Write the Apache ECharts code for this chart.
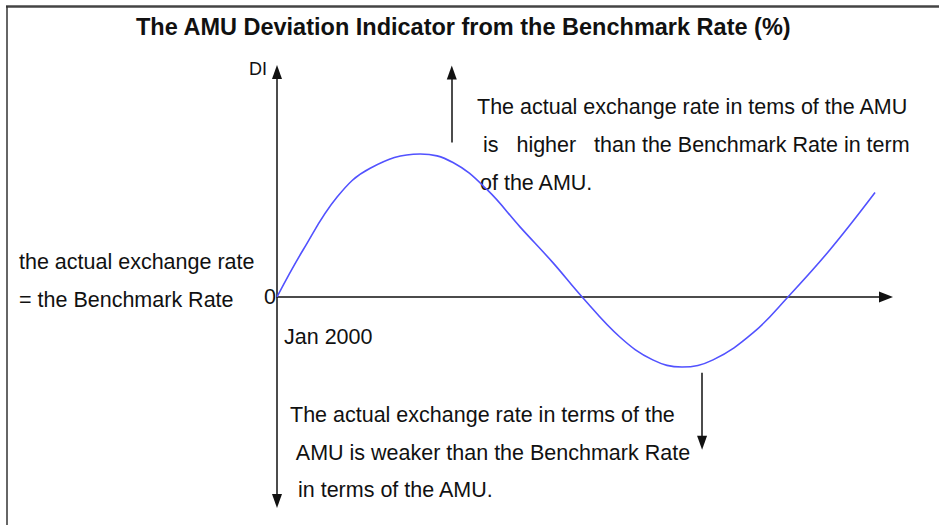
<!DOCTYPE html>
<html>
<head>
<meta charset="utf-8">
<title>AMU Deviation Indicator</title>
<script src="https://cdn.jsdelivr.net/npm/echarts@6/dist/echarts.min.js"></script>
<style>
  html, body { margin: 0; padding: 0; background: #fff; }
  #chart { width: 939px; height: 525px; }
</style>
</head>
<body>
<div id="chart"></div>
<script>
// curve (x: arbitrary time units from Jan 2000, y: DI)
var curveX = [0, 4.3, 9.9, 15.3, 23.5, 28.9, 34.5, 39.9, 45.3, 50.1, 56.3, 61.7, 66.5, 71.6, 78.2, 83.9, 90.8, 98.2];
var curveY = [0, 3.3, 7.0, 9.0, 10.0, 9.4, 7.5, 4.9, 2.4, 0, -2.8, -4.4, -4.9, -4.4, -2.5, 0, 3.3, 7.3];

// annotation arrows: [x, yFrom, yTo]
var upArrow = [28.7, 10.8, 15.7];
var downArrow = [69.8, -5.3, -10.2];

var titleText = 'The AMU Deviation Indicator from the Benchmark Rate (%)';
var xTickLabel = 'Jan 2000';
var yName = 'DI';
var upperNote = ['The actual exchange rate in tems of the AMU', ' is   higher   than the Benchmark Rate in term', 'of the AMU.'];
var lowerNote = ['The actual exchange rate in terms of the', ' AMU is weaker than the Benchmark Rate', ' in terms of the AMU.'];
var leftNote = ['the actual exchange rate', '= the Benchmark Rate'];

var FONT = '"Liberation Sans", Arial, sans-serif';
var chart = echarts.init(document.getElementById('chart'), null, { renderer: 'svg' });

var curve = curveX.map(function (x, i) { return [x, curveY[i]]; });

function noteText(str, x, y) {
  return {
    type: 'text', x: x, y: y, silent: true,
    style: { text: str, fill: '#111', font: '21.5px ' + FONT, verticalAlign: 'middle', align: 'left' }
  };
}

var graphics = [
  { type: 'line', silent: true, shape: { x1: 6, y1: 6.5, x2: 939, y2: 6.5 }, style: { stroke: '#444', lineWidth: 2.5 } },
  { type: 'line', silent: true, shape: { x1: 7, y1: 6, x2: 7, y2: 525 }, style: { stroke: '#333', lineWidth: 1.5 } }
];
var upperY = [107, 145, 183], upperX = [477, 477, 480];
upperNote.forEach(function (t, i) { graphics.push(noteText(t, upperX[i], upperY[i])); });
var lowerY = [415, 453, 490], lowerX = [290, 291, 292];
lowerNote.forEach(function (t, i) { graphics.push(noteText(t, lowerX[i], lowerY[i])); });
var leftY = [262, 300];
leftNote.forEach(function (t, i) { graphics.push(noteText(t, 19, leftY[i])); });

chart.setOption({
  animation: false,
  title: {
    text: titleText,
    left: 136, top: 15, padding: 0,
    textStyle: { fontFamily: FONT, fontSize: 23.5, fontWeight: 'bold', color: '#111' }
  },
  grid: { left: 277, right: 53, top: 72, bottom: 24, containLabel: false, outerBoundsMode: 'none' },
  xAxis: {
    type: 'value', min: 0, max: 100,
    splitLine: { show: false },
    axisTick: { show: false },
    axisLabel: { show: false },
    axisLine: { onZero: true, symbol: ['none', 'triangle'], symbolSize: [11, 14], lineStyle: { color: '#111', width: 1.5 } }
  },
  yAxis: {
    type: 'value', min: -14.27, max: 15.73,
    name: yName, nameLocation: 'end', nameGap: 3,
    nameTextStyle: { align: 'right', verticalAlign: 'middle', padding: [0, 10, 0, 0], color: '#111', fontFamily: FONT, fontSize: 18 },
    splitLine: { show: false },
    axisTick: { show: false },
    axisLine: { symbol: ['triangle', 'triangle'], symbolSize: [10, 14], lineStyle: { color: '#111', width: 1.5 } },
    axisLabel: {
      customValues: [0], formatter: function () { return '0'; },
      margin: 1, color: '#111', fontFamily: FONT, fontSize: 21.5
    }
  },
  graphic: graphics,
  series: [{
    type: 'line',
    data: curve,
    smooth: 0.4,
    showSymbol: false,
    silent: true,
    lineStyle: { color: '#5252ff', width: 1.6 },
    markPoint: {
      silent: true,
      symbol: 'circle',
      symbolSize: 0,
      label: {
        show: true, position: 'right', distance: 5, offset: [2, 40],
        formatter: function () { return xTickLabel; },
        color: '#111', fontFamily: FONT, fontSize: 21.5
      },
      data: [{ coord: [curveX[0], 0] }]
    },
    markLine: {
      silent: true,
      symbol: ['none', 'triangle'],
      symbolSize: [10, 14],
      label: { show: false },
      lineStyle: { color: '#111', width: 1.5, type: 'solid' },
      data: [
        [{ coord: [upArrow[0], upArrow[1]] }, { coord: [upArrow[0], upArrow[2]] }],
        [{ coord: [downArrow[0], downArrow[1]] }, { coord: [downArrow[0], downArrow[2]] }]
      ]
    }
  }]
});
</script>
</body>
</html>
